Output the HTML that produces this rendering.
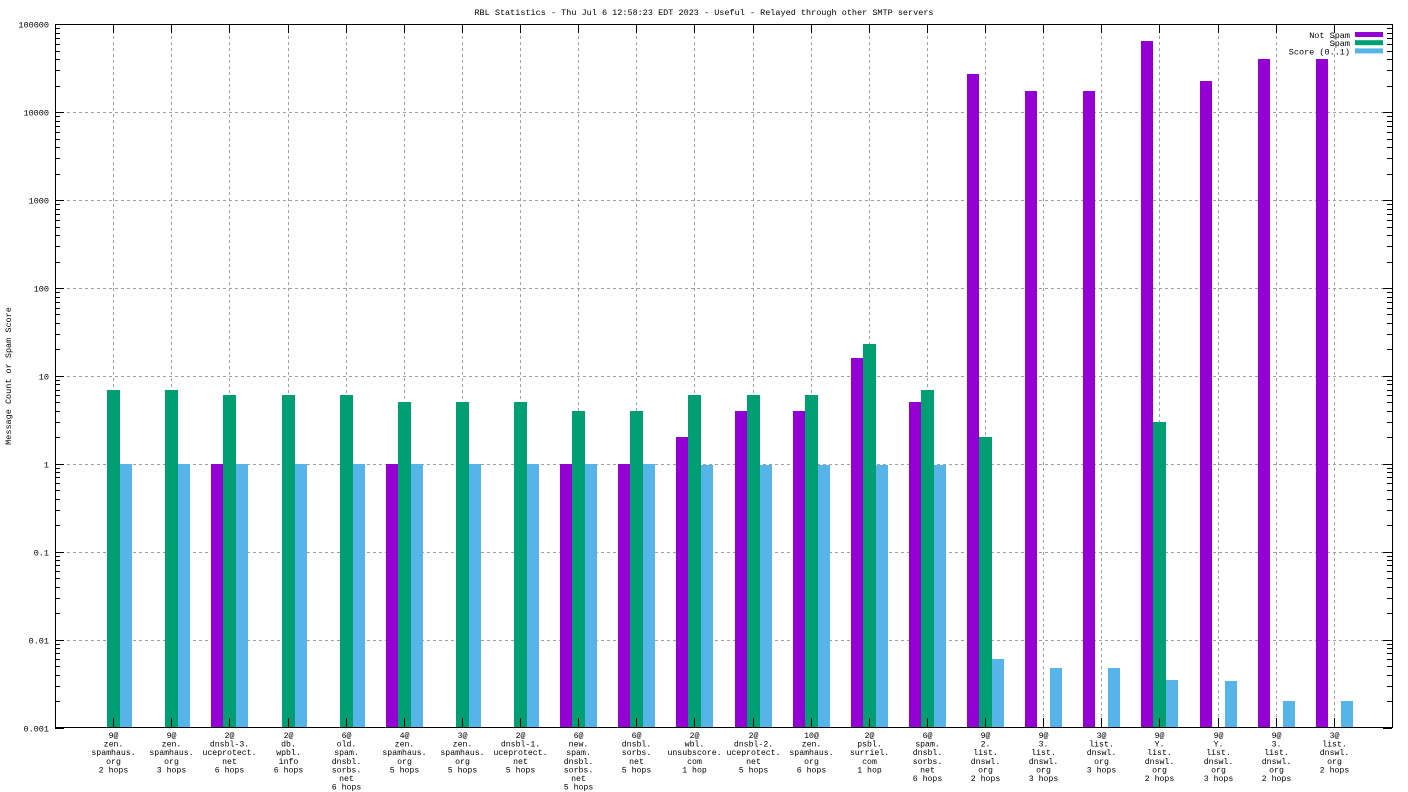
<!DOCTYPE html>
<html><head><meta charset="utf-8"><style>
html,body{margin:0;padding:0;background:#fff;}
svg{display:block;font-family:"Liberation Mono",monospace;}
</style></head><body>
<svg id="s" width="1408" height="792" xmlns="http://www.w3.org/2000/svg">
<rect width="1408" height="792" fill="#fff"/>
<text x="704" y="15" font-size="8.5" text-anchor="middle">RBL Statistics - Thu Jul  6 12:58:23 EDT 2023 - Useful - Relayed through other SMTP servers</text>
<text transform="translate(11,376) rotate(-90)" font-size="8.5" text-anchor="middle">Message Count or Spam Score</text>
<g id="g"></g>
</svg>
<script>
var L=55,R=1392,T=24,B=727,W=(R-L)/23;
function y(v){return 463.8-87.9*Math.log10(v);}
var ns="http://www.w3.org/2000/svg",g=document.getElementById('g'),h='';
// grid
var dec=[0.001,0.01,0.1,1,10,100,1000,10000,100000],lab=['0.001','0.01','0.1','1','10','100','1000','10000','100000'];
for(var i=0;i<dec.length;i++){var yy=Math.round(y(dec[i]))+0.5;
 if(i>0&&i<8)h+='<line x1="'+L+'" x2="'+R+'" y1="'+yy+'" y2="'+yy+'" stroke="#a0a0a0" stroke-dasharray="3,3"/>';
 h+='<text x="49" y="'+(yy+3)+'" font-size="8.5" text-anchor="end">'+lab[i]+'</text>';
 h+='<line x1="'+L+'" x2="'+(L+9)+'" y1="'+yy+'" y2="'+yy+'" stroke="#000"/><line x1="'+(R-9)+'" x2="'+R+'" y1="'+yy+'" y2="'+yy+'" stroke="#000"/>';
 if(i<8)for(var k=2;k<10;k++){var my=Math.round(y(dec[i]*k))+0.5;h+='<line x1="'+L+'" x2="'+(L+5)+'" y1="'+my+'" y2="'+my+'" stroke="#000"/><line x1="'+(R-5)+'" x2="'+R+'" y1="'+my+'" y2="'+my+'" stroke="#000"/>';}
}
var D=[[0,7,1],[0,7,1],[1,6,1],[0,6,1],[0,6,1],[1,5,1],[0,5,1],[0,5,1],[1,4,1],[1,4,1],[2,6,.97],[4,6,.97],[4,6,.97],[16,23,.97],[5,7,.97],[27000,2,.006],[17500,0,.0047],[17500,0,.0047],[65000,3,.0035],[22500,0,.0034],[40000,0,.002],[40000,0,.002]];
var LB=[["9@","zen.","spamhaus.","org","2 hops"],["9@","zen.","spamhaus.","org","3 hops"],["2@","dnsbl-3.","uceprotect.","net","6 hops"],["2@","db.","wpbl.","info","6 hops"],["6@","old.","spam.","dnsbl.","sorbs.","net","6 hops"],["4@","zen.","spamhaus.","org","5 hops"],["3@","zen.","spamhaus.","org","5 hops"],["2@","dnsbl-1.","uceprotect.","net","5 hops"],["6@","new.","spam.","dnsbl.","sorbs.","net","5 hops"],["6@","dnsbl.","sorbs.","net","5 hops"],["2@","wbl.","unsubscore.","com","1 hop"],["2@","dnsbl-2.","uceprotect.","net","5 hops"],["10@","zen.","spamhaus.","org","6 hops"],["2@","psbl.","surriel.","com","1 hop"],["6@","spam.","dnsbl.","sorbs.","net","6 hops"],["9@","2.","list.","dnswl.","org","2 hops"],["9@","3.","list.","dnswl.","org","3 hops"],["3@","list.","dnswl.","org","3 hops"],["9@","Y.","list.","dnswl.","org","2 hops"],["9@","Y.","list.","dnswl.","org","3 hops"],["9@","3.","list.","dnswl.","org","2 hops"],["3@","list.","dnswl.","org","2 hops"]];
var C=['#9400d3','#009e73','#56b4e9'],OFF=[-18,-6,7],BW=[12,13,12];
for(var i=0;i<22;i++){var c=Math.round(L+W*(i+1));
 h+='<line x1="'+(c+.5)+'" x2="'+(c+.5)+'" y1="'+T+'" y2="'+B+'" stroke="#a0a0a0" stroke-dasharray="3,3"/>';
 for(var j=0;j<3;j++){var v=D[i][j];if(!v)continue;var yt=Math.round(y(v));h+='<rect x="'+(c+OFF[j])+'" y="'+yt+'" width="'+BW[j]+'" height="'+(B-yt)+'" fill="'+C[j]+'"/>';}
 h+='<line x1="'+(c+.5)+'" x2="'+(c+.5)+'" y1="'+B+'" y2="'+(B-9)+'" stroke="#000"/><line x1="'+(c+.5)+'" x2="'+(c+.5)+'" y1="'+T+'" y2="'+(T+9)+'" stroke="#000"/>';
 for(var k=0;k<LB[i].length;k++)h+='<text x="'+(c+0.5)+'" y="'+(738+k*8.6)+'" font-size="8.2" text-anchor="middle">'+LB[i][k]+'</text>';
}
h+='<rect x="'+(L+.5)+'" y="'+(T+.5)+'" width="'+(R-L)+'" height="'+(B-T)+'" fill="none" stroke="#000"/>';
var LG=['Not Spam','Spam','Score (0..1)'];
for(var j=0;j<3;j++){var ly=35+j*8.2;h+='<rect x="1355" y="'+(ly-3)+'" width="28" height="5" fill="'+C[j]+'"/><text x="1350" y="'+(ly+3)+'" font-size="8.5" text-anchor="end">'+LG[j]+'</text>';}
g.innerHTML=h;
</script>
</body></html>
